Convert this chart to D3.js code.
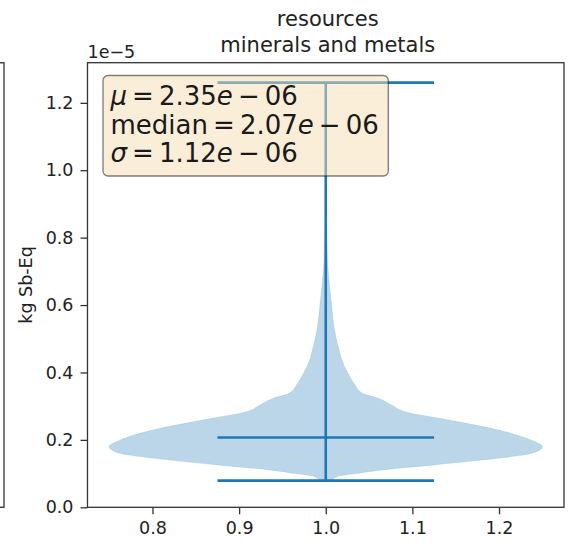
<!DOCTYPE html>
<html>
<head>
<meta charset="utf-8">
<script src="https://cdn.jsdelivr.net/npm/d3@7"></script>
<style>
  html, body { margin: 0; padding: 0; background: #fff; }
  svg { display: block; font-family: "DejaVu Sans", sans-serif; }
</style>
</head>
<body>
<svg id="chart" width="568" height="544"></svg>
<script>
// Title lines and axis label
const titleLines = ["resources", "minerals and metals"];
const yLabel = "kg Sb-Eq";

// Violin position and width
const positions = [1.0];
const violinWidth = 0.5;

// Summary statistics of the sample (kg Sb-Eq)
const sampleMin = 0.79e-6;
const sampleMax = 1.26e-5;
const sampleMean = 2.35e-6;
const sampleMedian = 2.07e-6;
const sampleStd = 1.12e-6;

// Kernel density estimate: evaluation points (×1e-6) and relative density
const kdeValues = [0.79, 0.91, 1.00, 1.11, 1.25, 1.40, 1.60, 1.80, 1.99, 2.29, 2.59, 2.83, 3.05, 3.23, 3.38, 3.68, 4.07, 4.36, 4.66, 4.96, 5.55, 6.14, 6.74, 7.24, 8.0, 9.0, 10.0, 11.0, 12.6];
const kdeDensity = [0.03, 0.05, 0.14, 0.26, 0.49, 0.72, 0.95, 1.00, 0.95, 0.80, 0.57, 0.37, 0.30, 0.245, 0.17, 0.13, 0.095, 0.075, 0.062, 0.05, 0.034, 0.025, 0.015, 0.009, 0.005, 0.003, 0.002, 0.0015, 0.001];

// Tick values
const xTicks = [0.8, 0.9, 1.0, 1.1, 1.2];
const yTicks = [0, 0.2e-5, 0.4e-5, 0.6e-5, 0.8e-5, 1.0e-5, 1.2e-5];
const yOffsetLabel = "1e\u22125";

const svg = d3.select("#chart");
const plot = { left: 87.5, right: 564, top: 62.7, bottom: 507.3 };

const blue = "#1f77b4";
const ink = "#222";
const fontTick = 17.5;

// Scales
const xLo = positions[0] - violinWidth / 2, xHi = positions[0] + violinWidth / 2;
const xPad = (xHi - xLo) * 0.05;
const x = d3.scaleLinear().domain([xLo - xPad, xHi + xPad]).range([plot.left, plot.right]);
const yTop = sampleMax + 0.05 * (sampleMax - sampleMin);
const y = d3.scaleLinear().domain([0, yTop]).range([plot.bottom, plot.top]);

// Half-width of the violin from relative density
const halfW = d3.scaleLinear().domain([0, d3.max(kdeDensity)]).range([0, violinWidth / 2]);

// Edge of a neighbouring panel on the left
svg.append("path")
  .attr("d", `M0,${plot.top}H4V${plot.bottom}H0`)
  .attr("fill", "none").attr("stroke", "#444").attr("stroke-width", 1.4);

// Violin body
const kde = kdeValues.map((v, i) => ({ v: v * 1e-6, d: kdeDensity[i] }));
const area = d3.area()
  .y(p => y(p.v))
  .x0(p => x(positions[0] - halfW(p.d)))
  .x1(p => x(positions[0] + halfW(p.d)))
  .curve(d3.curveMonotoneY);
svg.append("path")
  .datum(kde)
  .attr("d", area)
  .attr("fill", blue).attr("fill-opacity", 0.3)
  .attr("stroke", blue).attr("stroke-opacity", 0.15).attr("stroke-width", 0.8);

// Extrema bars, median bar and vertical range line
const capHalf = violinWidth / 4;
const lines = svg.append("g").attr("stroke", blue).attr("stroke-width", 2.6);
[sampleMin, sampleMedian, sampleMax].forEach(v => {
  lines.append("line")
    .attr("x1", x(positions[0] - capHalf)).attr("x2", x(positions[0] + capHalf))
    .attr("y1", y(v)).attr("y2", y(v));
});
lines.append("line")
  .attr("x1", x(positions[0])).attr("x2", x(positions[0]))
  .attr("y1", y(sampleMin)).attr("y2", y(sampleMax));

// Axes
const yAxis = d3.axisLeft(y).tickValues(yTicks)
  .tickFormat(d => (d * 1e5).toFixed(1)).tickSize(7).tickPadding(7).tickSizeOuter(0);
const xAxis = d3.axisBottom(x).tickValues(xTicks)
  .tickFormat(d3.format(".1f")).tickSize(7).tickPadding(7).tickSizeOuter(0);

const gy = svg.append("g").attr("transform", `translate(${plot.left},0)`).call(yAxis);
const gx = svg.append("g").attr("transform", `translate(0,${plot.bottom})`).call(xAxis);
[gx, gy].forEach(g => {
  g.select(".domain").remove();
  g.selectAll(".tick line").attr("stroke", "#333").attr("stroke-width", 1.3);
  g.selectAll(".tick text").attr("fill", ink)
    .style("font-size", fontTick + "px").style("font-family", "DejaVu Sans");
});

// Frame
svg.append("rect")
  .attr("x", plot.left).attr("y", plot.top)
  .attr("width", plot.right - plot.left).attr("height", plot.bottom - plot.top)
  .attr("fill", "none").attr("stroke", "#333").attr("stroke-width", 1.3);

// Offset text of the y axis
svg.append("text")
  .attr("x", plot.left).attr("y", 58)
  .attr("fill", ink).style("font-size", fontTick + "px")
  .text(yOffsetLabel);

// Title
const cx = (plot.left + plot.right) / 2;
svg.append("text")
  .attr("text-anchor", "middle").attr("fill", ink).style("font-size", "21px")
  .selectAll("tspan").data(titleLines).join("tspan")
  .attr("x", cx + 2).attr("y", (d, i) => 25.5 + i * 26)
  .text(d => d);

// Y axis label
svg.append("text")
  .attr("transform", `translate(31.5,${(plot.top + plot.bottom) / 2}) rotate(-90)`)
  .attr("text-anchor", "middle").attr("fill", ink).style("font-size", fontTick + "px")
  .text(yLabel);

// Statistics box
const fmtE = v => {
  const [m, e] = v.toExponential(2).split("e");
  const ex = parseInt(e, 10);
  return { mant: m, sign: ex < 0 ? "\u2212" : "+", exp: String(Math.abs(ex)).padStart(2, "0") };
};
const statRows = [
  { name: "\u03bc", italic: true, value: sampleMean },
  { name: "median", italic: false, value: sampleMedian },
  { name: "\u03c3", italic: true, value: sampleStd }
];
const boxFont = 26;
const sp = 0.195 * boxFont; // space around relation and binary operator
const box = svg.append("g");
const boxRect = box.append("rect")
  .attr("rx", 5).attr("ry", 5)
  .attr("fill", "#f5deb3").attr("fill-opacity", 0.5)
  .attr("stroke", "#000").attr("stroke-opacity", 0.5).attr("stroke-width", 1.3);
const textX = 110.5;
const baselines = [105, 133.5, 162];
statRows.forEach((r, i) => {
  const f = fmtE(r.value);
  const t = box.append("text")
    .attr("x", textX).attr("y", baselines[i])
    .attr("fill", "#1a1a1a").style("font-size", boxFont + "px");
  t.append("tspan").style("font-style", r.italic ? "italic" : "normal").text(r.name);
  t.append("tspan").attr("dx", sp).text("=");
  t.append("tspan").attr("dx", sp).text(f.mant);
  t.append("tspan").style("font-style", "italic").text("e");
  t.append("tspan").attr("dx", sp).text(f.sign);
  t.append("tspan").attr("dx", sp).text(f.exp);
});
const bb = box.node().getBBox();
const padX = 7.5;
boxRect.attr("x", textX - padX).attr("y", 75.5)
  .attr("width", (bb.x + bb.width) - textX + 2 * padX + 2)
  .attr("height", 176 - 75.5);
</script>
</body>
</html>
